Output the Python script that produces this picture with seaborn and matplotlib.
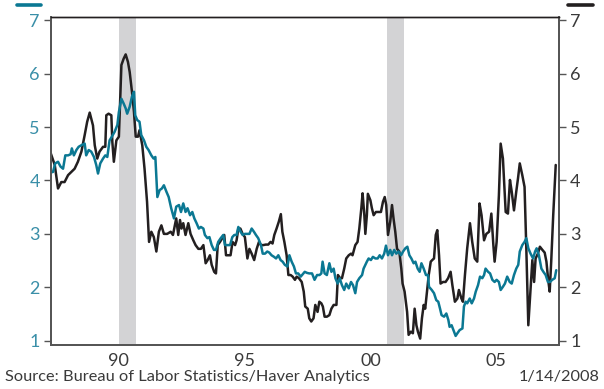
import matplotlib
matplotlib.use("Agg")
import matplotlib.pyplot as plt
from matplotlib.lines import Line2D
import seaborn as sns
import pandas as pd

# ---------------- data (decimal years, percent) ----------------
black_dates = [
    1987.79, 1987.95, 1988.08, 1988.21, 1988.34, 1988.48, 1988.61, 1988.74, 1988.87, 1989.01,
    1989.14, 1989.24, 1989.34, 1989.47, 1989.54, 1989.64, 1989.73, 1989.87, 1989.96, 1990.00,
    1990.09, 1990.20, 1990.24, 1990.30, 1990.40, 1990.50, 1990.60, 1990.69, 1990.77, 1990.86,
    1990.93, 1991.02, 1991.10, 1991.17, 1991.26, 1991.32, 1991.43, 1991.52, 1991.62, 1991.70,
    1991.79, 1991.89, 1991.99, 1992.09, 1992.19, 1992.29, 1992.42, 1992.56, 1992.65, 1992.78,
    1992.86, 1992.93, 1992.99, 1993.06, 1993.15, 1993.26, 1993.35, 1993.46, 1993.55, 1993.66,
    1993.76, 1993.86, 1993.95, 1994.03, 1994.12, 1994.19, 1994.29, 1994.36, 1994.43, 1994.52,
    1994.61, 1994.69, 1994.76, 1994.85, 1994.94, 1995.02, 1995.12, 1995.18, 1995.25, 1995.33,
    1995.42, 1995.51, 1995.61, 1995.69, 1995.78, 1995.88, 1995.98, 1996.07, 1996.15, 1996.24,
    1996.34, 1996.44, 1996.53, 1996.61, 1996.68, 1996.77, 1996.86, 1996.94, 1997.00, 1997.08,
    1997.17, 1997.24, 1997.33, 1997.41, 1997.50, 1997.57, 1997.66, 1997.77, 1997.85, 1997.91,
    1998.01, 1998.07, 1998.15, 1998.24, 1998.31, 1998.40, 1998.47, 1998.55, 1998.61, 1998.68,
    1998.77, 1998.87, 1998.95, 1999.04, 1999.15, 1999.21, 1999.30, 1999.37, 1999.46, 1999.54,
    1999.64, 1999.73, 1999.79, 1999.90, 1999.99, 2000.06, 2000.14, 2000.19, 2000.26, 2000.30,
    2000.36, 2000.40, 2000.50, 2000.56, 2000.63, 2000.72, 2000.83, 2000.92, 2001.00, 2001.07,
    2001.13, 2001.20, 2001.29, 2001.36, 2001.42, 2001.49, 2001.56, 2001.65, 2001.73, 2001.78,
    2001.86, 2001.96, 2002.02, 2002.11, 2002.19, 2002.26, 2002.33, 2002.39, 2002.48, 2002.55,
    2002.62, 2002.68, 2002.75, 2002.82, 2002.90, 2002.96, 2003.03, 2003.10, 2003.16, 2003.23,
    2003.29, 2003.39, 2003.49, 2003.59, 2003.69, 2003.76, 2003.86, 2003.96, 2004.02, 2004.12,
    2004.18, 2004.26, 2004.35, 2004.46, 2004.55, 2004.65, 2004.75, 2004.84, 2004.92, 2005.02,
    2005.11, 2005.22, 2005.31, 2005.39, 2005.44, 2005.52, 2005.61, 2005.68, 2005.77, 2005.88,
    2005.97, 2006.05, 2006.12, 2006.21, 2006.30, 2006.37, 2006.44, 2006.54, 2006.63, 2006.70,
    2006.78, 2006.87, 2006.94, 2007.01, 2007.07, 2007.16, 2007.24, 2007.34, 2007.43, 2007.50,
    2007.57, 2007.63, 2007.69, 2007.77, 2007.87,
]
black_values = [
    4.51, 4.29, 3.85, 3.97, 3.97, 4.10, 4.16, 4.22, 4.35, 4.54,
    4.85, 5.10, 5.27, 5.03, 4.66, 4.41, 4.54, 4.63, 4.63, 5.22,
    5.25, 5.22, 4.72, 4.35, 4.75, 4.82, 6.16, 6.28, 6.36, 6.22,
    6.03, 5.66, 5.28, 4.82, 4.82, 4.94, 4.66, 4.22, 3.60, 2.85,
    3.04, 2.94, 2.67, 3.04, 3.16, 3.00, 3.00, 3.04, 2.98, 3.29,
    2.98, 3.26, 3.10, 3.20, 2.98, 3.20, 3.00, 2.88, 2.79, 2.72,
    2.72, 2.79, 2.45, 2.51, 2.60, 2.42, 2.29, 2.26, 2.79, 2.85,
    2.92, 2.98, 2.60, 2.60, 2.60, 2.85, 2.79, 2.88, 3.10, 3.10,
    3.00, 2.94, 2.54, 2.72, 2.63, 2.51, 2.72, 2.85, 2.79, 2.79,
    2.80, 2.80, 2.85, 2.82, 2.98, 3.10, 3.23, 3.37, 3.04, 2.85,
    2.60, 2.23, 2.23, 2.20, 2.14, 2.20, 2.17, 2.10, 1.92, 1.64,
    1.60, 1.42, 1.36, 1.42, 1.67, 1.54, 1.73, 1.70, 1.64, 1.45,
    1.45, 1.48, 1.60, 1.67, 1.67, 2.23, 2.17, 2.17, 2.35, 2.54,
    2.60, 2.63, 2.60, 2.79, 2.85, 3.10, 3.48, 3.76, 3.35, 3.00,
    3.35, 3.75, 3.63, 3.48, 3.35, 3.41, 3.41, 3.41, 3.60, 3.69,
    3.54, 2.98, 3.23, 3.54, 3.29, 3.04, 2.72, 2.67, 2.35, 2.07,
    1.92, 1.54, 1.11, 1.17, 1.14, 1.60, 1.29, 1.17, 1.04, 1.42,
    1.67, 1.60, 1.92, 2.23, 2.48, 2.51, 2.54, 2.98, 3.07, 2.60,
    2.07, 2.10, 2.10, 2.17, 2.29, 2.04, 1.73, 1.79, 1.95, 1.79,
    1.73, 2.23, 2.73, 3.20, 2.85, 2.54, 2.48, 3.57, 3.35, 2.88,
    3.00, 3.04, 3.38, 2.79, 2.48, 2.85, 3.72, 4.69, 4.41, 3.41,
    3.38, 4.01, 3.79, 3.44, 3.79, 4.04, 4.32, 4.10, 3.88, 2.73,
    1.29, 1.98, 2.51, 2.10, 2.54, 2.63, 2.76, 2.70, 2.65, 2.48,
    2.14, 1.92, 2.48, 3.35, 4.29,
]

teal_dates = [
    1987.79, 1987.88, 1987.97, 1988.08, 1988.18, 1988.28, 1988.37, 1988.48, 1988.58, 1988.63,
    1988.71, 1988.81, 1988.90, 1989.01, 1989.14, 1989.20, 1989.30, 1989.40, 1989.51, 1989.60,
    1989.67, 1989.76, 1989.87, 1989.96, 1990.04, 1990.13, 1990.22, 1990.33, 1990.44, 1990.50,
    1990.60, 1990.69, 1990.77, 1990.83, 1990.93, 1991.02, 1991.10, 1991.15, 1991.23, 1991.32,
    1991.39, 1991.50, 1991.59, 1991.68, 1991.79, 1991.88, 1991.95, 1992.03, 1992.12, 1992.21,
    1992.29, 1992.39, 1992.48, 1992.58, 1992.69, 1992.78, 1992.89, 1992.97, 1993.06, 1993.15,
    1993.23, 1993.33, 1993.42, 1993.50, 1993.59, 1993.68, 1993.76, 1993.86, 1993.92, 1994.02,
    1994.10, 1994.19, 1994.28, 1994.36, 1994.45, 1994.55, 1994.65, 1994.72, 1994.81, 1994.92,
    1995.01, 1995.09, 1995.18, 1995.25, 1995.34, 1995.42, 1995.51, 1995.61, 1995.69, 1995.78,
    1995.87, 1995.95, 1996.04, 1996.15, 1996.22, 1996.31, 1996.40, 1996.48, 1996.57, 1996.67,
    1996.75, 1996.84, 1996.93, 1997.01, 1997.10, 1997.20, 1997.28, 1997.37, 1997.46, 1997.54,
    1997.63, 1997.73, 1997.89, 1997.98, 1998.07, 1998.18, 1998.28, 1998.38, 1998.48, 1998.55,
    1998.60, 1998.68, 1998.77, 1998.87, 1998.95, 1999.04, 1999.11, 1999.20, 1999.28, 1999.37,
    1999.46, 1999.54, 1999.64, 1999.73, 1999.81, 1999.90, 1999.97, 2000.06, 2000.17, 2000.23,
    2000.30, 2000.36, 2000.43, 2000.52, 2000.60, 2000.70, 2000.79, 2000.87, 2000.96, 2001.05,
    2001.12, 2001.20, 2001.29, 2001.36, 2001.45, 2001.53, 2001.62, 2001.72, 2001.80, 2001.89,
    2001.97, 2002.05, 2002.13, 2002.22, 2002.29, 2002.38, 2002.46, 2002.53, 2002.62, 2002.71,
    2002.79, 2002.83, 2002.94, 2003.03, 2003.12, 2003.20, 2003.27, 2003.33, 2003.43, 2003.52,
    2003.60, 2003.65, 2003.73, 2003.80, 2003.89, 2003.96, 2004.05, 2004.16, 2004.22, 2004.29,
    2004.35, 2004.45, 2004.53, 2004.62, 2004.69, 2004.78, 2004.86, 2004.95, 2005.02, 2005.08,
    2005.18, 2005.26, 2005.35, 2005.44, 2005.52, 2005.61, 2005.68, 2005.77, 2005.85, 2005.94,
    2006.04, 2006.12, 2006.21, 2006.30, 2006.38, 2006.44, 2006.54, 2006.63, 2006.70, 2006.78,
    2006.87, 2006.97, 2007.05, 2007.11, 2007.20, 2007.30, 2007.38, 2007.47, 2007.56, 2007.64,
    2007.73, 2007.83, 2007.89,
]
teal_values = [
    4.15, 4.16, 4.32, 4.35, 4.26, 4.22, 4.47, 4.47, 4.49, 4.60,
    4.47, 4.57, 4.63, 4.66, 4.69, 4.47, 4.57, 4.54, 4.44, 4.29,
    4.13, 4.32, 4.41, 4.47, 4.44, 4.75, 4.82, 4.91, 5.04, 5.28,
    5.53, 5.44, 5.35, 5.25, 5.38, 5.57, 5.66, 5.22, 5.13, 5.10,
    4.85, 4.75, 4.63, 4.57, 4.47, 4.41, 4.44, 3.69, 3.82, 3.85,
    3.91, 3.79, 3.69, 3.48, 3.29, 3.51, 3.54, 3.41, 3.57, 3.41,
    3.48, 3.35, 3.41, 3.29, 3.20, 3.10, 3.13, 3.10, 2.98, 2.92,
    2.94, 2.79, 2.70, 2.70, 2.85, 2.92, 2.98, 2.79, 2.79, 2.79,
    2.94, 2.98, 2.98, 3.13, 3.04, 2.98, 3.00, 3.00, 3.00, 3.10,
    3.04, 2.98, 2.92, 2.79, 2.63, 2.63, 2.67, 2.65, 2.60, 2.57,
    2.54, 2.60, 2.51, 2.48, 2.42, 2.39, 2.60, 2.48, 2.39, 2.26,
    2.26, 2.20, 2.29, 2.27, 2.26, 2.26, 2.14, 2.23, 2.23, 2.26,
    2.48, 2.26, 2.23, 2.45, 2.29, 2.35, 2.17, 2.07, 2.17, 2.04,
    1.95, 2.07, 1.98, 2.10, 2.04, 1.89, 2.10, 2.17, 2.23, 2.35,
    2.42, 2.48, 2.54, 2.51, 2.57, 2.54, 2.54, 2.60, 2.54, 2.63,
    2.78, 2.60, 2.70, 2.60, 2.70, 2.63, 2.67, 2.60, 2.67, 2.73,
    2.76, 2.60, 2.54, 2.45, 2.48, 2.35, 2.29, 2.45, 2.35, 2.23,
    2.23, 2.01, 1.95, 1.89, 1.76, 1.73, 1.60, 1.48, 1.45, 1.51,
    1.39, 1.26, 1.29, 1.20, 1.09, 1.14, 1.20, 1.23, 1.64, 1.73,
    1.70, 1.79, 1.70, 1.79, 1.92, 2.04, 2.20, 2.17, 2.23, 2.35,
    2.29, 2.26, 2.14, 2.10, 2.14, 2.10, 1.95, 2.01, 2.07, 2.20,
    2.10, 2.07, 2.23, 2.35, 2.42, 2.67, 2.79, 2.85, 2.92, 2.73,
    2.63, 2.54, 2.67, 2.73, 2.60, 2.35, 2.29, 2.23, 2.10, 2.10,
    2.14, 2.17, 2.32,
]

recessions = [(1990.50, 1991.17), (2001.17, 2001.83)]
tick_positions = [1990.5, 1995.5, 2000.5, 2005.5]
tick_labels = ["90", "95", "00", "05"]
y_ticks = [1, 2, 3, 4, 5, 6, 7]
source_text = "Source: Bureau of Labor Statistics/Haver Analytics"
date_text = "1/14/2008"

TEAL = "#0b7893"
TEAL_TXT = "#3a8fa8"
BLACK = "#231f20"
TXT = "#3a3a3a"
GRAY_SPINE = "#555555"
REC = "#d3d3d5"
FONT = ["Lato", "DejaVu Sans"]

# ---------------- figure ----------------
sns.set_theme(style="white")
plt.rcParams["font.family"] = FONT
plt.rcParams["font.weight"] = "normal"

fig = plt.figure(figsize=(6.04, 3.89), dpi=100)
ax = fig.add_axes([0.0844, 0.1131, 0.8411, 0.8432])
ax2 = ax.twinx()

for a, b in recessions:
    ax.axvspan(a, b, color=REC, lw=0, zorder=0)

df_b = pd.DataFrame({"date": black_dates, "value": black_values})
df_t = pd.DataFrame({"date": teal_dates, "value": teal_values})

sns.lineplot(data=df_t, x="date", y="value", ax=ax, color=TEAL, lw=1.8, zorder=3)
sns.lineplot(data=df_b, x="date", y="value", ax=ax, color=BLACK, lw=1.8, zorder=2)

xlim = (1987.8, 2008.0)
ylim = (0.92, 7.06)
for a in (ax, ax2):
    a.set_xlim(*xlim)
    a.set_ylim(*ylim)
    a.set_yticks(y_ticks)
    a.set_xlabel("")
    a.set_ylabel("")
    a.grid(False)

ax.set_xticks(tick_positions)
ax.set_xticklabels(tick_labels)
ax.set_yticklabels([str(v) for v in y_ticks])
ax2.set_yticklabels([str(v) for v in y_ticks])

ax.tick_params(axis="x", length=0, pad=6, labelsize=13, labelcolor=TXT)
ax.tick_params(axis="y", direction="out", length=5, width=1, color=GRAY_SPINE,
               pad=3, labelsize=13, labelcolor=TEAL_TXT, left=True)
ax2.tick_params(axis="y", direction="out", length=5, width=1, color=GRAY_SPINE,
                pad=3, labelsize=13, labelcolor=TXT, right=True)

for a in (ax, ax2):
    for side in ("left", "right", "bottom"):
        a.spines[side].set_visible(True)
        a.spines[side].set_color(GRAY_SPINE)
        a.spines[side].set_linewidth(1.3)
    a.spines["top"].set_visible(True)
    a.spines["top"].set_color(BLACK)
    a.spines["top"].set_linewidth(1.0)

# series keys above each axis
fig.add_artist(Line2D([17 / 604, 41 / 604], [1 - 5 / 389, 1 - 5 / 389],
                      color=TEAL, lw=2.6, transform=fig.transFigure))
fig.add_artist(Line2D([568 / 604, 593 / 604], [1 - 5 / 389, 1 - 5 / 389],
                      color=BLACK, lw=2.6, transform=fig.transFigure))

fig.text(5 / 604, 0.012, source_text, ha="left", va="bottom", fontsize=11.8, color=TXT)
fig.text(600 / 604, 0.012, date_text, ha="right", va="bottom", fontsize=11.8, color=TXT)

fig.savefig("out.png", dpi=100)
